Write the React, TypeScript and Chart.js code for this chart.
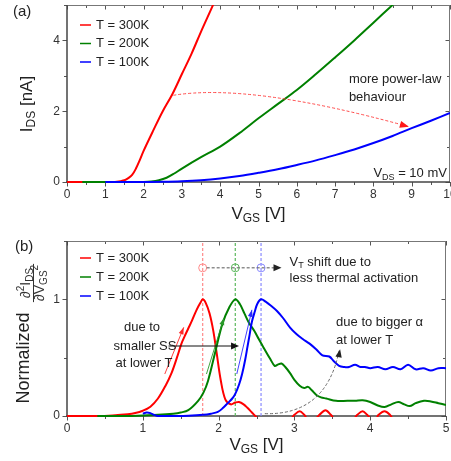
import React, { useEffect, useRef } from "react";
import { Chart, registerables } from "chart.js";

Chart.register(...registerables);

const FONT = "'Liberation Sans', Arial, Helvetica, sans-serif";

// ---------- Panel (a): I_DS vs V_GS ----------
const vgsA300 = [0, 0.5, 1.0, 1.2, 1.3, 1.4, 1.5, 1.6, 1.7, 1.8, 1.9, 2.0, 2.25, 2.5, 2.75, 3.0, 3.25, 3.5, 3.75, 4.0];
const idsA300 = [0, 0, 0, 0.003, 0.01, 0.025, 0.05, 0.11, 0.2, 0.38, 0.62, 0.88, 1.45, 2.0, 2.48, 3.05, 3.62, 4.25, 4.85, 5.45];

const vgsA200 = [0.4, 1.0, 1.5, 2.0, 2.2, 2.4, 2.6, 2.8, 3.0, 3.5, 4.0, 4.5, 5.0, 5.5, 6.0, 6.5, 7.0, 7.5, 8.0, 8.5, 9.0];
const idsA200 = [0, 0, 0, 0.003, 0.015, 0.05, 0.12, 0.24, 0.38, 0.7, 1.0, 1.38, 1.8, 2.2, 2.6, 3.05, 3.52, 4.0, 4.5, 5.0, 5.5];

const vgsA100 = [1.0, 1.5, 2.0, 2.5, 3.0, 3.5, 4.0, 4.5, 5.0, 5.5, 6.0, 6.5, 7.0, 7.5, 8.0, 8.5, 9.0, 9.5, 10.0];
const idsA100 = [0, 0, 0, 0.005, 0.02, 0.05, 0.1, 0.17, 0.26, 0.36, 0.48, 0.61, 0.76, 0.92, 1.1, 1.3, 1.52, 1.73, 1.95];

// ---------- Panel (b): normalized d2I/dV2 ----------
const vgsB300 = [0, 0.4, 0.6, 0.8, 0.9, 1.0, 1.1, 1.2, 1.3, 1.38, 1.45, 1.51, 1.55, 1.6, 1.65, 1.71, 1.76, 1.79, 1.83, 1.88, 1.93, 1.97, 2.03, 2.09, 2.16, 2.22, 2.27, 2.33, 2.38, 2.44, 2.5, 2.6, 2.8, 2.96, 3.0, 3.07, 3.13, 3.18, 3.28, 3.33, 3.41, 3.48, 3.55, 3.7, 3.79, 3.83, 3.9, 3.96, 4.02, 4.08, 4.11, 4.19, 4.26, 4.32, 4.5];
const dB300 = [0, 0, 0.005, 0.015, 0.025, 0.045, 0.08, 0.15, 0.26, 0.37, 0.5, 0.62, 0.68, 0.75, 0.82, 0.91, 0.97, 1.0, 0.97, 0.88, 0.73, 0.56, 0.3, 0.14, 0.1, 0.115, 0.12, 0.1, 0.07, 0.03, -0.01, -0.06, -0.08, -0.02, 0.01, 0.04, 0.01, -0.03, -0.02, 0.01, 0.05, 0.01, -0.04, -0.06, -0.02, 0.01, 0.04, 0.01, -0.03, -0.02, 0.01, 0.04, 0.01, -0.04, -0.08];

const vgsB200 = [0.4, 0.8, 1.0, 1.2, 1.4, 1.5, 1.6, 1.73, 1.8, 1.86, 1.96, 2.05, 2.14, 2.22, 2.28, 2.34, 2.4, 2.47, 2.53, 2.59, 2.68, 2.74, 2.78, 2.83, 2.88, 2.94, 3.0, 3.07, 3.13, 3.18, 3.23, 3.29, 3.35, 3.42, 3.55, 3.7, 3.8, 3.9, 4.0, 4.1, 4.19, 4.28, 4.37, 4.45, 4.52, 4.6, 4.71, 4.8, 4.9, 5.0];
const dB200 = [0, 0, 0.005, 0.01, 0.02, 0.03, 0.05, 0.13, 0.2, 0.3, 0.56, 0.79, 0.93, 1.0, 0.96, 0.88, 0.8, 0.73, 0.66, 0.59, 0.49, 0.43, 0.44, 0.45, 0.42, 0.37, 0.31, 0.26, 0.24, 0.25, 0.22, 0.18, 0.16, 0.15, 0.13, 0.13, 0.13, 0.135, 0.12, 0.09, 0.077, 0.1, 0.12, 0.1, 0.085, 0.11, 0.13, 0.125, 0.11, 0.095];

const vgsB100 = [1.0, 1.05, 1.1, 1.15, 1.2, 1.4, 1.6, 1.8, 1.9, 1.99, 2.06, 2.12, 2.18, 2.22, 2.27, 2.31, 2.35, 2.38, 2.41, 2.44, 2.48, 2.51, 2.56, 2.62, 2.7, 2.77, 2.85, 2.94, 3.03, 3.11, 3.2, 3.29, 3.37, 3.46, 3.52, 3.59, 3.66, 3.72, 3.8, 3.87, 3.93, 4.0, 4.1, 4.2, 4.3, 4.4, 4.5, 4.6, 4.7, 4.8, 4.9, 5.0];
const dB100 = [0.02, 0.03, 0.025, 0.01, 0.0, 0.0, 0.002, 0.01, 0.02, 0.035, 0.07, 0.11, 0.15, 0.19, 0.27, 0.36, 0.48, 0.59, 0.7, 0.81, 0.9, 0.96, 1.0, 0.98, 0.94, 0.9, 0.84, 0.76, 0.7, 0.66, 0.62, 0.57, 0.52, 0.51, 0.47, 0.43, 0.42, 0.42, 0.44, 0.42, 0.42, 0.41, 0.42, 0.4, 0.42, 0.4, 0.44, 0.4, 0.41, 0.39, 0.41, 0.41];

// threshold voltages (peak positions) and marker level
const vtValues = [1.79, 2.22, 2.56];
const vtMarkerLevel = 1.27;
const vtArrowEnd = 2.83;

const seriesLabels = ["T = 300K", "T = 200K", "T = 100K"];
const seriesColors = ["#ff0000", "#008000", "#0000ff"];
const vtLineColors = ["#ff8a8a", "#5cb85c", "#8a8aff"];

const xMaxA = 10;
const yMaxA = 5;
const xMaxB = 5;
const yMaxB = 1.5;

type Run = { t: string; s?: "sub" | "sup" };

function runsWidth(ctx: CanvasRenderingContext2D, runs: Run[], size: number) {
  let w = 0;
  for (const r of runs) {
    ctx.font = `${r.s ? Math.round(size * 0.68) : size}px ${FONT}`;
    w += ctx.measureText(r.t).width;
  }
  return w;
}

function drawRuns(
  ctx: CanvasRenderingContext2D,
  runs: Run[],
  x: number,
  y: number,
  size: number,
  align: "left" | "center" | "right",
  color: string
) {
  const w = runsWidth(ctx, runs, size);
  let cx = align === "left" ? x : align === "center" ? x - w / 2 : x - w;
  ctx.textAlign = "left";
  ctx.textBaseline = "middle";
  ctx.fillStyle = color;
  for (const r of runs) {
    ctx.font = `${r.s ? Math.round(size * 0.68) : size}px ${FONT}`;
    const dy = r.s === "sub" ? size * 0.3 : r.s === "sup" ? -size * 0.35 : 0;
    ctx.fillText(r.t, cx, y + dy);
    cx += ctx.measureText(r.t).width;
  }
}

function arrowHead(ctx: CanvasRenderingContext2D, x: number, y: number, ang: number, len: number, half: number, color: string) {
  ctx.save();
  ctx.setLineDash([]);
  ctx.fillStyle = color;
  ctx.translate(x, y);
  ctx.rotate(ang);
  ctx.beginPath();
  ctx.moveTo(0, 0);
  ctx.lineTo(-len, -half);
  ctx.lineTo(-len, half);
  ctx.closePath();
  ctx.fill();
  ctx.restore();
}

function isMult(v: number, step: number) {
  const r = v / step;
  return Math.abs(r - Math.round(r)) < 1e-6;
}

type FrameCfg = { xStep: number; xMajor: number; yStep: number; yMajor: number };

function framePlugin(id: string, cfg: FrameCfg) {
  return {
    id,
    beforeDatasetsDraw(chart: any) {
      const { ctx, chartArea: a, scales } = chart;
      const xs = scales.x;
      const ys = scales.y;
      ctx.save();
      ctx.strokeStyle = "#555";
      ctx.lineWidth = 1;
      const seg = (x1: number, y1: number, x2: number, y2: number) => {
        ctx.beginPath();
        ctx.moveTo(x1, y1);
        ctx.lineTo(x2, y2);
        ctx.stroke();
      };
      for (let v = xs.min; v <= xs.max + 1e-9; v += cfg.xStep) {
        const px = Math.round(xs.getPixelForValue(v)) + 0.5;
        const L = isMult(v, cfg.xMajor) ? 4.5 : 3;
        seg(px, a.bottom, px, a.bottom + L);
        seg(px, a.top, px, a.top + L);
      }
      for (let v = ys.min; v <= ys.max + 1e-9; v += cfg.yStep) {
        const py = Math.round(ys.getPixelForValue(v)) + 0.5;
        const L = isMult(v, cfg.yMajor) ? 4.5 : 3;
        seg(a.left - L, py, a.left, py);
        seg(a.right - L, py, a.right, py);
      }
      ctx.strokeStyle = "#777";
      seg(a.left, a.top + 0.5, a.right, a.top + 0.5);
      seg(a.right - 0.5, a.top, a.right - 0.5, a.bottom);
      ctx.strokeStyle = "#444";
      ctx.lineWidth = 1.5;
      seg(a.left, a.top, a.left, a.bottom + 0.75);
      seg(a.left - 0.75, a.bottom, a.right, a.bottom);
      ctx.restore();
    },
  };
}

function drawLegend(ctx: CanvasRenderingContext2D, x: number, y0: number, dy: number) {
  for (let i = 0; i < seriesLabels.length; i++) {
    const y = y0 + i * dy;
    ctx.strokeStyle = seriesColors[i];
    ctx.lineWidth = 1.5;
    ctx.setLineDash([]);
    ctx.beginPath();
    ctx.moveTo(x, y);
    ctx.lineTo(x + 11, y);
    ctx.stroke();
    drawRuns(ctx, [{ t: seriesLabels[i] }], x + 16, y, 13, "left", "#222");
  }
}

const annotPluginA = {
  id: "annotA",
  afterDatasetsDraw(chart: any) {
    const { ctx, chartArea: a, scales } = chart;
    const xs = scales.x;
    const ys = scales.y;
    const P = (x: number, y: number) => [xs.getPixelForValue(x), ys.getPixelForValue(y)];
    ctx.save();
    drawLegend(ctx, 80, 25, 18.5);
    const s = P(2.78, 2.45);
    const c = P(4.78, 2.8);
    const e = P(8.9, 1.57);
    ctx.strokeStyle = "#ff4a4a";
    ctx.lineWidth = 1;
    ctx.setLineDash([3, 2]);
    ctx.beginPath();
    ctx.moveTo(s[0], s[1]);
    ctx.quadraticCurveTo(c[0], c[1], e[0], e[1]);
    ctx.stroke();
    arrowHead(ctx, e[0] + 1, e[1] + 0.3, Math.atan2(e[1] - c[1], e[0] - c[0]), 9, 3.5, "#ff1a1a");
    const t1 = P(7.36, 2.89);
    drawRuns(ctx, [{ t: "more power-law" }], t1[0], t1[1], 13, "left", "#222");
    const t2 = P(7.36, 2.38);
    drawRuns(ctx, [{ t: "behaviour" }], t2[0], t2[1], 13, "left", "#222");
    const t3 = P(9.92, 0.25);
    drawRuns(ctx, [{ t: "V" }, { t: "DS", s: "sub" }, { t: " = 10 mV" }], t3[0], t3[1], 13, "right", "#222");
    drawRuns(ctx, [{ t: "(a)" }], 13, 12, 15, "left", "#222");
    drawRuns(ctx, [{ t: "V" }, { t: "GS", s: "sub" }, { t: " [V]" }], (a.left + a.right) / 2, 214, 17, "center", "#222");
    ctx.save();
    ctx.translate(27, 104);
    ctx.rotate(-Math.PI / 2);
    drawRuns(ctx, [{ t: "I" }, { t: "DS", s: "sub" }, { t: " [nA]" }], 0, 0, 17, "center", "#222");
    ctx.restore();
    ctx.restore();
  },
};

const annotPluginB = {
  id: "annotB",
  afterDatasetsDraw(chart: any) {
    const { ctx, chartArea: a, scales } = chart;
    const xs = scales.x;
    const ys = scales.y;
    const P = (x: number, y: number) => [xs.getPixelForValue(x), ys.getPixelForValue(y)];
    ctx.save();
    drawLegend(ctx, 80, 30, 19);
    const h0 = P(vtValues[0], vtMarkerLevel);
    const h1 = P(vtArrowEnd, vtMarkerLevel);
    ctx.strokeStyle = "#555";
    ctx.lineWidth = 1;
    ctx.setLineDash([3, 2]);
    ctx.beginPath();
    ctx.moveTo(h0[0] + 4, h0[1]);
    ctx.lineTo(h1[0] - 6, h1[1]);
    ctx.stroke();
    arrowHead(ctx, h1[0], h1[1], 0, 8, 3.5, "#222");
    drawRuns(ctx, [{ t: "V" }, { t: "T", s: "sub" }, { t: " shift due to" }], h1[0] + 8, 262 - 228, 13, "left", "#222");
    drawRuns(ctx, [{ t: "less thermal activation" }], h1[0] + 8, 278 - 228, 13, "left", "#222");

    const thin: [number, number, number, number, string][] = [
      [1.29, 0.36, 1.54, 0.76, "#ff2a2a"],
      [1.84, 0.36, 2.07, 0.84, "#2a9a2a"],
      [2.24, 0.36, 2.44, 0.91, "#2a2aff"],
    ];
    ctx.setLineDash([]);
    for (const [x1, y1, x2, y2, col] of thin) {
      const p1 = P(x1, y1);
      const p2 = P(x2, y2);
      ctx.strokeStyle = col;
      ctx.lineWidth = 0.9;
      ctx.beginPath();
      ctx.moveTo(p1[0], p1[1]);
      ctx.lineTo(p2[0], p2[1]);
      ctx.stroke();
      arrowHead(ctx, p2[0], p2[1], Math.atan2(p2[1] - p1[1], p2[0] - p1[0]), 7, 2.5, col);
    }
    const b0 = P(1.34, 0.6);
    const b1 = P(2.27, 0.6);
    ctx.strokeStyle = "#111";
    ctx.lineWidth = 1;
    ctx.beginPath();
    ctx.moveTo(b0[0], b0[1]);
    ctx.lineTo(b1[0] - 6, b1[1]);
    ctx.stroke();
    arrowHead(ctx, b1[0], b1[1], 0, 8, 3.5, "#111");
    drawRuns(ctx, [{ t: "due to" }], 142, 327.5 - 228, 13, "center", "#222");
    drawRuns(ctx, [{ t: "smaller SS" }], 145, 346.5 - 228, 13, "center", "#222");
    drawRuns(ctx, [{ t: "at lower T" }], 144, 363.5 - 228, 13, "center", "#222");

    const g0 = P(2.61, 0.02);
    const gc = P(3.42, 0.005);
    const g1 = P(3.59, 0.56);
    ctx.strokeStyle = "#666";
    ctx.lineWidth = 1;
    ctx.setLineDash([3, 2]);
    ctx.beginPath();
    ctx.moveTo(g0[0], g0[1]);
    ctx.quadraticCurveTo(gc[0], gc[1], g1[0], g1[1]);
    ctx.stroke();
    arrowHead(ctx, g1[0] + 1, g1[1] - 1.5, Math.atan2(g1[1] - gc[1], g1[0] - gc[0]), 8, 3.2, "#222");
    const ta = P(3.55, 0.805);
    drawRuns(ctx, [{ t: "due to bigger \u03b1" }], ta[0], ta[1], 13, "left", "#222");
    const tb = P(3.55, 0.645);
    drawRuns(ctx, [{ t: "at lower T" }], tb[0], tb[1], 13, "left", "#222");

    drawRuns(ctx, [{ t: "(b)" }], 15, 247 - 228, 15, "left", "#222");
    drawRuns(ctx, [{ t: "V" }, { t: "GS", s: "sub" }, { t: " [V]" }], (a.left + a.right) / 2, 445 - 228, 17, "center", "#222");
    ctx.save();
    ctx.translate(24, 358 - 228);
    ctx.rotate(-Math.PI / 2);
    drawRuns(ctx, [{ t: "Normalized" }], 0, 0, 18, "center", "#222");
    ctx.restore();
    // fraction d2I/dV2 (rotated)
    ctx.save();
    ctx.translate(33.5, 283 - 228);
    ctx.rotate(-Math.PI / 2);
    const num: Run[] = [{ t: "\u2202" }, { t: "2", s: "sup" }, { t: "I" }, { t: "DS", s: "sub" }];
    const den: Run[] = [{ t: "\u2202V" }, { t: "GS", s: "sub" }, { t: "2", s: "sup" }];
    const fs = 14;
    const wd = runsWidth(ctx, den, fs);
    drawRuns(ctx, num, 0, -7.5, fs, "center", "#333");
    drawRuns(ctx, den, 0, 7, fs, "center", "#333");
    ctx.strokeStyle = "#333";
    ctx.lineWidth = 1;
    ctx.setLineDash([]);
    ctx.beginPath();
    ctx.moveTo(-wd / 2 - 1, 0);
    ctx.lineTo(wd / 2 + 1, 0);
    ctx.stroke();
    ctx.restore();
    ctx.restore();
  },
};

function pts(xs: number[], ys: number[]) {
  return xs.map((x, i) => ({ x, y: ys[i] }));
}

function mainDataset(i: number, xs: number[], ys: number[], clipBottom: number) {
  return {
    label: seriesLabels[i],
    data: pts(xs, ys),
    borderColor: seriesColors[i],
    backgroundColor: seriesColors[i],
    borderWidth: 2,
    pointRadius: 0,
    tension: 0.35,
    order: 3 - i,
    clip: { left: 0, top: 0, right: 0, bottom: clipBottom },
  };
}

function axisTicks(stepSize: number, labelEvery: number) {
  return {
    stepSize,
    autoSkip: false,
    maxRotation: 0,
    minRotation: 0,
    color: "#333",
    font: { size: 12, family: FONT },
    callback: (v: any) => (isMult(Number(v), labelEvery) ? String(Math.round(Number(v))) : ""),
  };
}

export default function App() {
  const refA = useRef<HTMLCanvasElement>(null);
  const refB = useRef<HTMLCanvasElement>(null);

  useEffect(() => {
    if (!refA.current || !refB.current) return;
    const common = {
      responsive: false,
      animation: false as const,
      plugins: { legend: { display: false }, tooltip: { enabled: false } },
      events: [] as any[],
    };

    const chartA = new Chart(refA.current, {
      type: "line",
      data: {
        datasets: [
          mainDataset(0, vgsA300, idsA300, 2),
          mainDataset(1, vgsA200, idsA200, 2),
          mainDataset(2, vgsA100, idsA100, 2),
        ] as any,
      },
      options: {
        ...common,
        layout: { padding: { top: 5, right: 1, left: 0, bottom: 0 } },
        scales: {
          x: {
            type: "linear",
            min: 0,
            max: xMaxA,
            grid: { display: false, drawTicks: false },
            border: { display: false },
            ticks: { ...axisTicks(0.5, 1), padding: 5 },
            afterFit: (s: any) => {
              s.height = 46;
              s.paddingLeft = 0;
              s.paddingRight = 0;
            },
          },
          y: {
            type: "linear",
            min: 0,
            max: yMaxA,
            grid: { display: false, drawTicks: false },
            border: { display: false },
            ticks: { ...axisTicks(1, 2), padding: 7 },
            afterFit: (s: any) => {
              s.width = 67;
              s.paddingTop = 0;
              s.paddingBottom = 0;
            },
          },
        },
      } as any,
      plugins: [framePlugin("frameA", { xStep: 0.5, xMajor: 1, yStep: 1, yMajor: 2 }), annotPluginA],
    });

    const vtLines = vtValues.map((v, i) => ({
      label: "",
      data: [
        { x: v, y: 0 },
        { x: v, y: yMaxB },
      ],
      borderColor: vtLineColors[i],
      borderWidth: 1.2,
      borderDash: [3, 2],
      pointRadius: 0,
      order: 10,
    }));
    const vtMarkers = {
      label: "",
      data: vtValues.map((v) => ({ x: v, y: vtMarkerLevel })),
      showLine: false,
      pointRadius: 4,
      pointStyle: "circle",
      pointBorderWidth: 1,
      pointBorderColor: vtLineColors,
      pointBackgroundColor: "rgba(255,255,255,0)",
      order: 9,
    };

    const chartB = new Chart(refB.current, {
      type: "line",
      data: {
        datasets: [
          mainDataset(0, vgsB300, dB300, 1),
          mainDataset(1, vgsB200, dB200, 2),
          mainDataset(2, vgsB100, dB100, 2),
          ...vtLines,
          vtMarkers,
        ] as any,
      },
      options: {
        ...common,
        layout: { padding: { top: 13, right: 1, left: 0, bottom: 0 } },
        scales: {
          x: {
            type: "linear",
            min: 0,
            max: xMaxB,
            grid: { display: false, drawTicks: false },
            border: { display: false },
            ticks: { ...axisTicks(0.5, 1), padding: 5 },
            afterFit: (s: any) => {
              s.height = 45;
              s.paddingLeft = 0;
              s.paddingRight = 0;
            },
          },
          y: {
            type: "linear",
            min: 0,
            max: yMaxB,
            grid: { display: false, drawTicks: false },
            border: { display: false },
            ticks: { ...axisTicks(0.5, 1), padding: 7 },
            afterFit: (s: any) => {
              s.width = 67;
              s.paddingTop = 0;
              s.paddingBottom = 0;
            },
          },
        },
      } as any,
      plugins: [framePlugin("frameB", { xStep: 0.5, xMajor: 1, yStep: 0.5, yMajor: 1 }), annotPluginB],
    });

    return () => {
      chartA.destroy();
      chartB.destroy();
    };
  }, []);

  return (
    <div style={{ position: "absolute", left: 0, top: 0, width: 451, height: 461, background: "#fff", overflow: "hidden" }}>
      <canvas ref={refA} width={451} height={228} style={{ position: "absolute", left: 0, top: 0, width: 451, height: 228, display: "block" }} />
      <canvas ref={refB} width={451} height={233} style={{ position: "absolute", left: 0, top: 228, width: 451, height: 233, display: "block" }} />
    </div>
  );
}
